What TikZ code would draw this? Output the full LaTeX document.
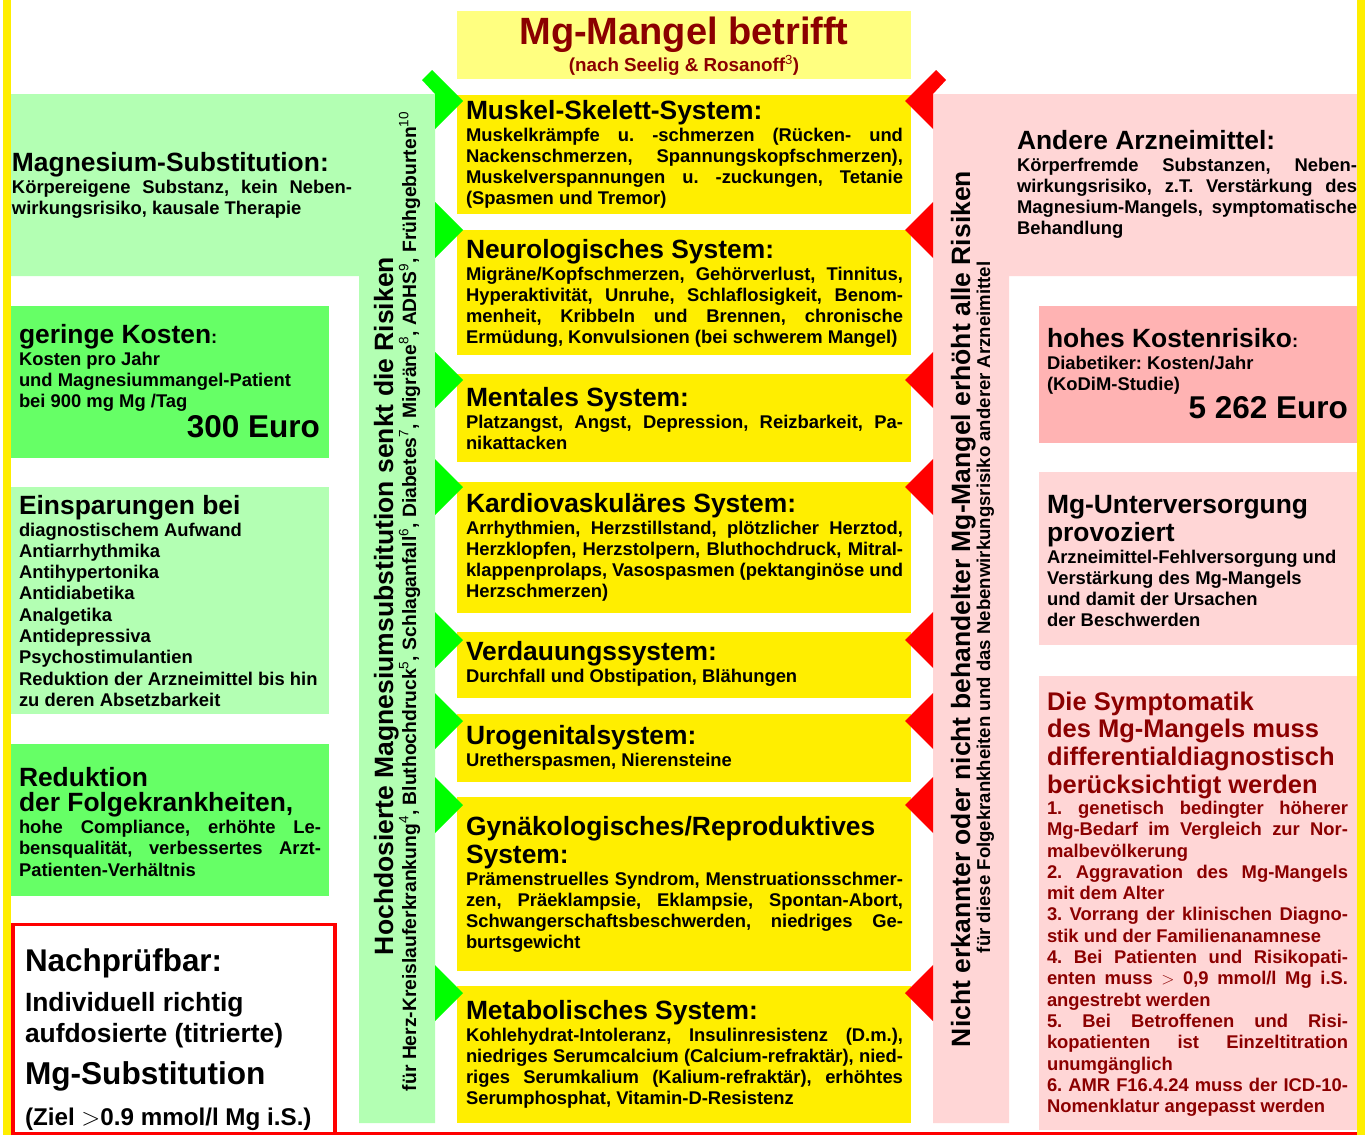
\documentclass[tikz,border=0pt]{standalone}
\usepackage{fontspec}
\setmainfont{Liberation Sans}
\definecolor{yel}{RGB}{255,238,0}
\definecolor{ltyel}{RGB}{255,255,128}
\definecolor{ltgreen}{RGB}{179,255,179}
\definecolor{midgreen}{RGB}{102,255,102}
\definecolor{arrgreen}{RGB}{0,255,0}
\definecolor{arrred}{RGB}{255,0,0}
\definecolor{ltpink}{RGB}{255,214,214}
\definecolor{midpink}{RGB}{255,179,179}
\definecolor{dkred}{RGB}{139,0,0}
\newcommand{\natsp}{\spaceskip=0pt\xspaceskip=0pt\relax}
\newcommand{\J}[1]{\leavevmode\hbox to \hsize{\natsp #1}}
\newcommand{\Tf}{\fontsize{26.4}{28}\selectfont\natsp}
\newcommand{\Bf}{\fontsize{18.4}{21.3}\selectfont\natsp}
\newcommand{\TB}[2]{{\Tf #1\par}\vspace{0.7pt}{\Bf #2\par}}
\lineskiplimit=-1000pt
\hyphenpenalty=10000
\exhyphenpenalty=10000
\frenchspacing
\begin{document}
\begin{tikzpicture}[x=1pt,y=-1pt,
  txt/.style={inner sep=0pt, outer sep=0pt, anchor=base west, align=left, font=\bfseries},
  vtxt/.style={txt, rotate=90},
  ybox/.style={txt, text width=437pt}]
\useasboundingbox (0,0) rectangle (1370,1135);
\fill[white] (0,0) rectangle (1370,1135);
% L-shaped side panels
\fill[ltgreen] (10,94) -- (435,94) -- (435,1123) -- (359,1123) -- (359,276) -- (10,276) -- cycle;
\fill[ltpink] (933,94) -- (1357,94) -- (1357,276) -- (1009,276) -- (1009,1123) -- (933,1123) -- cycle;
% title box
\fill[ltyel] (457,11) rectangle (911,79);
% yellow system boxes
\foreach \a/\b in {95/214, 230/355, 374/462, 482/613, 632/698, 714/782, 797/971, 986/1123}
  \fill[yel] (457,\a) rectangle (911,\b);
% arrows
\foreach \t in {230,380,487,640,721,805,993} {
  \fill[arrgreen] (435,\t-28) -- (463,\t) -- (435,\t+28) -- cycle;
  \fill[arrred] (933,\t-28) -- (905,\t) -- (933,\t+28) -- cycle;
}
\fill[arrgreen] (422,80) -- (432,70) -- (463,101) -- (435,129) -- (435,94) -- cycle;
\fill[arrred] (946,80) -- (936,70) -- (905,101) -- (933,129) -- (933,94) -- cycle;
% left boxes
\fill[midgreen] (11,306) rectangle (329,458);
\fill[ltgreen] (11,487) rectangle (329,714);
\fill[midgreen] (11,744) rectangle (329,896);
% right boxes
\fill[midpink] (1039,306) rectangle (1357,443);
\fill[ltpink] (1039,472) rectangle (1357,645);
\fill[ltpink] (1039,676) rectangle (1357,1130);
% yellow borders
\fill[yel] (3.3,0) rectangle (10.7,1135);
\fill[yel] (1357,0) rectangle (1365,1135);
% red frame
\draw[arrred, line width=3.5] (13,1135) -- (13,924.5) -- (335,924.5) -- (335,1135);
\draw[arrred, line width=2.5] (11,1133.5) -- (1357,1133.5);

% ---- texts ----
\node[txt, anchor=base, text=dkred] (title) at (684,44) {\fontsize{38}{40}\selectfont Mg-Mangel betrifft};
\node[txt, anchor=base, text=dkred] (subtitle) at (684,71) {\fontsize{18.8}{20}\selectfont (nach Seelig \& Rosanoff\textsuperscript{\mdseries 3})};

\node[ybox] (muskel) at (466,119) {\TB{Muskel-Skelett-System:}{\J{Muskelkrämpfe u. -schmerzen (Rücken- und}\\\J{Nackenschmerzen, Spannungskopfschmerzen),}\\\J{Muskelverspannungen u. -zuckungen, Tetanie}\\(Spasmen und Tremor)}};
\node[ybox] (neuro) at (466,258) {\TB{Neurologisches System:}{\J{Migräne/Kopfschmerzen, Gehörverlust, Tinnitus,}\\\J{Hyperaktivität, Unruhe, Schlaflosigkeit, Benom-}\\\J{menheit, Kribbeln und Brennen, chronische}\\Ermüdung, Konvulsionen (bei schwerem Mangel)}};
\node[ybox] (mental) at (466,406) {\TB{Mentales System:}{\J{Platzangst, Angst, Depression, Reizbarkeit, Pa-}\\nikattacken}};
\node[ybox] (kardio) at (466,512) {\TB{Kardiovaskuläres System:}{\J{Arrhythmien, Herzstillstand, plötzlicher Herztod,}\\\J{Herzklopfen, Herzstolpern, Bluthochdruck, Mitral-}\\\J{klappenprolaps, Vasospasmen (pektanginöse und}\\Herzschmerzen)}};
\node[ybox] (verdau) at (466,660) {\TB{Verdauungssystem:}{Durchfall und Obstipation, Blähungen}};
\node[ybox] (uro) at (466,744) {\TB{Urogenitalsystem:}{Uretherspasmen, Nierensteine}};
\node[ybox] (gyn) at (466,835) {\TB{Gynäkologisches/Reproduktives\\System:}{\J{Prämenstruelles Syndrom, Menstruationsschmer-}\\\J{zen, Präeklampsie, Eklampsie, Spontan-Abort,}\\\J{Schwangerschaftsbeschwerden, niedriges Ge-}\\burtsgewicht}};
\node[ybox] (metab) at (466,1019) {\TB{Metabolisches System:}{\J{Kohlehydrat-Intoleranz, Insulinresistenz (D.m.),}\\\J{niedriges Serumcalcium (Calcium-refraktär), nied-}\\\J{riges Serumkalium (Kalium-refraktär), erhöhtes}\\Serumphosphat, Vitamin-D-Resistenz}};

% left column
\node[txt, text width=340pt] (magsub) at (12,171) {\TB{Magnesium-Substitution:}{\J{Körpereigene Substanz, kein Neben-}\\wirkungsrisiko, kausale Therapie}};
\node[txt, text width=310pt] (kosten) at (19,343) {\TB{geringe Kosten{\Bf:}}{Kosten pro Jahr\\und Magnesiummangel-Patient\\bei 900 mg Mg /Tag}};
\node[txt, anchor=base east] (eur1) at (320,437) {\fontsize{31.5}{33}\selectfont 300 Euro};
\node[txt, text width=310pt] (einsp) at (19,514) {\TB{Einsparungen bei}{diagnostischem Aufwand\\Antiarrhythmika\\Antihypertonika\\Antidiabetika\\Analgetika\\Antidepressiva\\Psychostimulantien\\Reduktion der Arzneimittel bis hin\\zu deren Absetzbarkeit}};
\node[txt, text width=302pt] (redukt) at (19,786) {{\fontsize{26.4}{25.5}\selectfont\natsp Reduktion\\der Folgekrankheiten,\par}\vspace{0.7pt}{\Bf\J{hohe Compliance, erhöhte Le-}\\\J{bensqualität, verbessertes Arzt-}\\Patienten-Verhältnis\par}};
\node[txt] (nach1) at (25,971) {\fontsize{31.4}{33}\selectfont Nachprüfbar:};
\node[txt] (nach2) at (25,1011) {\fontsize{26.4}{28}\selectfont Individuell richtig};
\node[txt] (nach3) at (25,1042) {\fontsize{26.4}{28}\selectfont aufdosierte (titrierte)};
\node[txt] (nach4) at (25,1084) {\fontsize{31.6}{33}\selectfont Mg-Substitution};
\node[txt] (nach5) at (25,1125) {\fontsize{24.2}{26}\selectfont (Ziel $>$0.9 mmol/l Mg i.S.)};

% right column
\node[txt, text width=340pt] (andere) at (1017,149) {\TB{Andere Arzneimittel:}{\J{Körperfremde Substanzen, Neben-}\\\J{wirkungsrisiko, z.T. Verstärkung des}\\\J{Magnesium-Mangels, symptomatische}\\Behandlung}};
\node[txt, text width=301pt] (hohes) at (1047,347) {\TB{hohes Kostenrisiko{\Bf:}}{Diabetiker: Kosten/Jahr\\(KoDiM-Studie)}};
\node[txt, anchor=base east] (eur2) at (1348,418) {\fontsize{31.5}{33}\selectfont 5 262 Euro};
\node[txt, text width=301pt] (unterv) at (1047,513) {\TB{Mg-Unterversorgung\\provoziert}{Arzneimittel-Fehlversorgung und\\Verstärkung des Mg-Mangels\\und damit der Ursachen\\der Beschwerden}};
\node[txt, text width=301pt, text=dkred] (sympt) at (1047,710) {{\fontsize{25.5}{27.7}\selectfont\natsp Die Symptomatik\\des Mg-Mangels muss\\differentialdiagnostisch\\berücksichtigt werden\par}{\Bf\J{1. genetisch bedingter höherer}\\\J{Mg-Bedarf im Vergleich zur Nor-}\\malbevölkerung\\\J{2. Aggravation des Mg-Mangels}\\mit dem Alter\\\J{3. Vorrang der klinischen Diagno-}\\stik und der Familienanamnese\\\J{4. Bei Patienten und Risikopati-}\\\J{enten muss $>$ 0,9 mmol/l Mg i.S.}\\angestrebt werden\\\J{5. Bei Betroffenen und Risi-}\\\J{kopatienten ist Einzeltitration}\\unumgänglich\\\J{6. AMR F16.4.24 muss der ICD-10-}\\Nomenklatur angepasst werden\par}};

% vertical texts
\node[vtxt] (lefttitle) at (393,955) {\fontsize{26.5}{28}\selectfont Hochdosierte Magnesiumsubstitution senkt die Risiken};
\node[vtxt] (leftsub) at (416,1091) {\fontsize{19.3}{21}\selectfont für Herz-Kreislauferkrankung\textsuperscript{\mdseries 4}, Bluthochdruck\textsuperscript{\mdseries 5}, Schlaganfall\textsuperscript{\mdseries 6}, Diabetes\textsuperscript{\mdseries 7}, Migräne\textsuperscript{\mdseries 8}, ADHS\textsuperscript{\mdseries 9}, Frühgeburten\textsuperscript{\mdseries 10}};
\node[vtxt] (righttitle) at (970,1047) {\fontsize{26.5}{28}\selectfont Nicht erkannter oder nicht behandelter Mg-Mangel erhöht alle Risiken};
\node[vtxt] (rightsub) at (990,953) {\fontsize{18.6}{20}\selectfont für diese Folgekrankheiten und das Nebenwirkungsrisiko anderer Arzneimittel};
\end{tikzpicture}
\end{document}
